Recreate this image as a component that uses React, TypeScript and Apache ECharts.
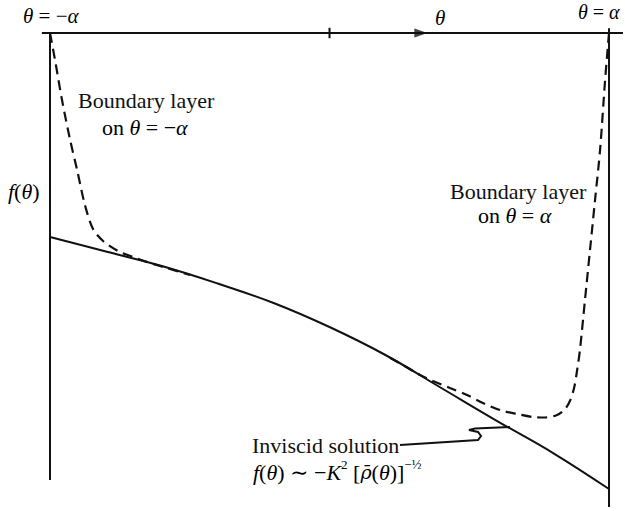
import React, { useEffect, useRef } from "react";
import * as echarts from "echarts";

// θ in units of α (−1 … 1); f(θ) in arbitrary units (0 on the θ axis, negative below)
const THETA_SOLID = [-1, -0.8, -0.6, -0.4, -0.2, 0, 0.2, 0.4, 0.6, 0.8, 1];
const F_SOLID = [-4.304, -4.61, -4.916, -5.285, -5.696, -6.203, -6.793, -7.489, -8.186, -8.861, -9.62];

const THETA_BL_LEFT = [-1, -0.982, -0.957, -0.928, -0.903, -0.875, -0.846, -0.81, -0.757, -0.703, -0.642, -0.571, -0.499];
const F_BL_LEFT = [0, -0.57, -1.414, -2.257, -2.89, -3.629, -4.135, -4.388, -4.599, -4.726, -4.852, -4.979, -5.105];

const THETA_BL_RIGHT = [1, 0.986, 0.968, 0.95, 0.932, 0.914, 0.896, 0.886, 0.875, 0.86, 0.843, 0.814, 0.771, 0.728, 0.671, 0.61, 0.549, 0.492, 0.431, 0.37, 0.324, 0.27, 0.216];
const F_BL_RIGHT = [0, -0.992, -2.468, -3.523, -4.578, -5.633, -6.688, -7.11, -7.489, -7.764, -7.932, -8.059, -8.112, -8.101, -8.038, -7.954, -7.806, -7.637, -7.489, -7.342, -7.215, -7.03, -6.85];

// θ axis drawn along f = 0
const THETA_AXIS_EXTENT = [-1.029, 1.05];
const THETA_TICKS = [0];
const THETA_ARROW = 0.327;
const WALL_LEFT_BOTTOM = -9.43;
const WALL_RIGHT_TOP = 0.1;
const WALL_RIGHT_BOTTOM = -10.0;

const zip = (a: number[], b: number[]) => a.map((v, i) => [v, b[i]]);

const SERIF = "'Liberation Serif', 'DejaVu Serif', serif";
const INK = "#111";

export default function App() {
  const ref = useRef<HTMLDivElement>(null);
  useEffect(() => {
    document.body.style.margin = "0";
    const chart = echarts.init(ref.current!, null, { renderer: "svg" });
    const lineBase = { type: "line", symbol: "none", silent: true };
    const rm = { fontFamily: SERIF, fontSize: 22, fill: INK };
    const richBase = {
      i: { fontFamily: SERIF, fontStyle: "italic", fontSize: 22, color: INK, lineHeight: 28, verticalAlign: "middle" },
      r: { fontFamily: SERIF, fontSize: 22, color: INK, lineHeight: 28, verticalAlign: "middle" },
      rho: { fontFamily: "'DejaVu Serif', serif", fontStyle: "italic", fontSize: 19, color: INK, lineHeight: 28, verticalAlign: "middle" },
      t: { fontFamily: SERIF, fontStyle: "italic", fontSize: 21, color: INK, lineHeight: 26, verticalAlign: "middle" },
      tr: { fontFamily: SERIF, fontSize: 21, color: INK, lineHeight: 26, verticalAlign: "middle" },
      ts: { fontFamily: SERIF, fontStyle: "italic", fontSize: 20, color: INK, lineHeight: 26, verticalAlign: "middle" },
      tsr: { fontFamily: SERIF, fontSize: 20, color: INK, lineHeight: 26, verticalAlign: "middle" },
      sup: { fontFamily: SERIF, fontSize: 13, color: INK, lineHeight: 28, verticalAlign: "top" },
    };
    const rich = (x: number, y: number, text: string) => ({
      type: "text",
      x,
      y,
      style: { text, rich: richBase, verticalAlign: "middle", align: "left" },
    });
    chart.setOption({
      animation: false,
      backgroundColor: "#fff",
      grid: { left: 0, right: 0, top: 0, bottom: 0 },
      xAxis: { type: "value", min: -1.1789, max: 1.0572, show: false },
      yAxis: { type: "value", min: -10.084, max: 0.696, show: false },
      series: [
        {
          ...lineBase,
          name: "θ axis",
          data: [
            [THETA_AXIS_EXTENT[0], 0],
            [THETA_AXIS_EXTENT[1], 0],
          ],
          lineStyle: { color: INK, width: 2 },
        },
        ...THETA_TICKS.map((t) => ({
          ...lineBase,
          name: "tick",
          data: [
            [t, 0.11],
            [t, -0.11],
          ],
          lineStyle: { color: INK, width: 2 },
        })),
        {
          type: "scatter",
          name: "arrow",
          silent: true,
          data: [[THETA_ARROW, 0]],
          symbol: "triangle",
          symbolRotate: -90,
          symbolSize: [9, 13],
          itemStyle: { color: INK },
        },
        {
          ...lineBase,
          name: "θ = −α",
          data: [
            [-1, 0],
            [-1, WALL_LEFT_BOTTOM],
          ],
          lineStyle: { color: INK, width: 2 },
        },
        {
          ...lineBase,
          name: "θ = α",
          data: [
            [1, WALL_RIGHT_TOP],
            [1, WALL_RIGHT_BOTTOM],
          ],
          lineStyle: { color: INK, width: 2 },
        },
        {
          ...lineBase,
          name: "Inviscid solution",
          smooth: 0.4,
          data: zip(THETA_SOLID, F_SOLID),
          lineStyle: { color: INK, width: 2 },
        },
        {
          ...lineBase,
          name: "Boundary layer on θ = −α",
          smooth: 0.3,
          data: zip(THETA_BL_LEFT, F_BL_LEFT),
          lineStyle: { color: INK, width: 2.2, type: [10, 6] },
        },
        {
          ...lineBase,
          name: "Boundary layer on θ = α",
          smooth: 0.3,
          data: zip(THETA_BL_RIGHT, F_BL_RIGHT),
          lineStyle: { color: INK, width: 2.2, type: [10, 6] },
        },
      ],
      graphic: [
        rich(23, 16, "{t|θ}{tr| = −}{t|α}"),
        rich(435, 18, "{t|θ}"),
        rich(578, 12, "{ts|θ}{tsr| = }{ts|α}"),
        rich(8, 191, "{i|f}{r|(}{i|θ}{r|)}"),
        { type: "text", x: 78, y: 100, style: { ...rm, text: "Boundary layer", verticalAlign: "middle" } },
        rich(102, 127, "{r|on }{i|θ}{r| = −}{i|α}"),
        { type: "text", x: 450, y: 191, style: { ...rm, text: "Boundary layer", verticalAlign: "middle" } },
        rich(478, 215, "{r|on }{i|θ}{r| = }{i|α}"),
        { type: "text", x: 252, y: 445, style: { ...rm, text: "Inviscid solution", verticalAlign: "middle" } },
        rich(253, 472, "{i|f}{r|(}{i|θ}{r|) ∼ −}{i|K}{sup|2}{r| [}{rho|ρ\u0304}{r|(}{i|θ}{r|)]}{sup|−½}"),
        {
          type: "polyline",
          shape: {
            points: [
              [400, 445],
              [478, 440],
              [481, 436],
              [478, 432],
              [469, 430],
              [475, 428.5],
              [510, 427],
            ],
          },
          style: { stroke: INK, lineWidth: 2, fill: "none" },
        },
      ],
    });
    return () => chart.dispose();
  }, []);
  return <div ref={ref} style={{ position: "absolute", left: 0, top: 0, width: 625, height: 511 }} />;
}
